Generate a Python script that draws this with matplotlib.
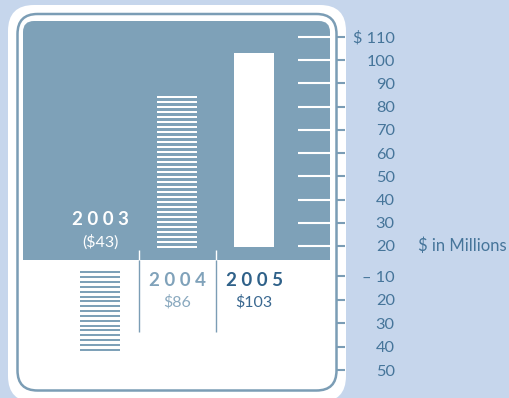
import numpy as np
import matplotlib.pyplot as plt
from matplotlib.patches import FancyBboxPatch, Rectangle
from matplotlib.transforms import Affine2D

# data
years = ["2003", "2004", "2005"]
amounts = ["($43)", "$86", "$103"]
values = [43, 86, 103]
upper_ticks = [20, 30, 40, 50, 60, 70, 80, 90, 100, 110]
upper_labels = ["20", "30", "40", "50", "60", "70", "80", "90", "100", "$ 110"]
lower_ticks = [10, 20, 30, 40, 50]
lower_labels = ["\u2013 10", "20", "30", "40", "50"]
bar_base = 19.4      # upper scale is cut at $20
loss_start = 8       # the 2003 bar hangs down on the lower scale

BG = "#c6d6ec"
DARK = "#7ea1b8"
STEEL = "#7b9db5"
LABEL = "#46759a"

plt.rcParams['font.family'] = ['Lato', 'DejaVu Sans']

W, H = 510, 398
fig = plt.figure(figsize=(W / 100, H / 100), dpi=100, facecolor=BG)
px = Affine2D().scale(1 / W, -1 / H).translate(0, 1) + fig.transFigure


def box(x0, y0, x1, y1, r, z, **kw):
    p = FancyBboxPatch((x0, y0), x1 - x0, y1 - y0,
                       boxstyle=f"round,pad=0,rounding_size={r}",
                       transform=px, zorder=z, **kw)
    fig.add_artist(p)


# frame: white card, thin outline, dark top panel
box(8, 5, 346, 402, 26, -10, facecolor="white", edgecolor="none")
box(17.5, 14, 336.5, 390.5, 20, -9, facecolor="white", edgecolor=STEEL, linewidth=1.8)
box(23, 21, 330, 260, 11, -8, facecolor=DARK, edgecolor="none")
fig.add_artist(Rectangle((23, 235), 307, 25, transform=px, facecolor=DARK,
                         edgecolor="none", zorder=-8))

ax_up = fig.add_axes([23 / W, 1 - 260 / H, 307 / W, 239 / H])
ax_lo = fig.add_axes([23 / W, 1 - 390 / H, 307 / W, 130 / H])

x = np.arange(len(years))
width = 0.52

for ax in (ax_up, ax_lo):
    ax.set_facecolor("none")
    ax.set_xlim(-1.0, 2.987)
    for s in ax.spines.values():
        s.set_visible(False)
    ax.set_xticks([])
    ax.yaxis.tick_right()
    ax.tick_params(axis="y", length=0, pad=46.6, labelcolor=LABEL, labelsize=11.8)

ax_up.set_ylim(13.97, 116.89)
ax_lo.set_ylim(58.51, 3.19)

ax_up.set_yticks(upper_ticks, upper_labels)
ax_lo.set_yticks(lower_ticks, lower_labels)
for ax in (ax_up, ax_lo):
    for t in ax.get_yticklabels():
        t.set_horizontalalignment("right")

# tick marks: white inside the dark panel, steel outside the outline
ytr_up = ax_up.get_yaxis_transform()
ytr_lo = ax_lo.get_yaxis_transform()
for t in upper_ticks:
    ax_up.plot([0.896, 1.0], [t, t], color="white", lw=1.5, transform=ytr_up,
               clip_on=False, solid_capstyle="butt")
    ax_up.plot([1.0195, 1.049], [t, t], color=STEEL, lw=1.5, transform=ytr_up,
               clip_on=False, solid_capstyle="butt")
for t in lower_ticks:
    ax_lo.plot([1.0195, 1.049], [t, t], color=STEEL, lw=1.5, transform=ytr_lo,
               clip_on=False, solid_capstyle="butt")

# 2005: solid white bar
ax_up.bar(x[2], values[2] - bar_base, width, bottom=bar_base, color="white")

# 2004: white stripes on the dark panel
period, thick = 2.153, 1.08
starts = np.arange(bar_base - 0.3, values[1] - 2 * thick, period)
ax_up.bar(np.full(len(starts), x[1]), thick, width, bottom=starts, color="white")

# 2003: steel stripes hanging below the split
period_lo, thick_lo = 2.06, 0.85
starts_lo = np.arange(loss_start, values[0] - thick_lo + 0.01, period_lo)
ax_lo.bar(np.full(len(starts_lo), x[0]), thick_lo, width, bottom=starts_lo, color=DARK)

# separators between the years
ax_up.vlines([0.5, 1.5], 13.97, 18.3, color="white", lw=1.0)
ax_lo.vlines([0.5, 1.5], 3.19, 33.8, color=STEEL, lw=1.0)

# year labels
spaced = [" ".join(y) for y in years]
ax_up.text(x[0], 31.2, spaced[0], ha="center", va="center", color="white",
           fontsize=13.5, fontweight="bold")
ax_up.text(x[0], 21.7, amounts[0], ha="center", va="center", color="white", fontsize=11.5)
ax_lo.text(x[1], 12.1, spaced[1], ha="center", va="center", color="#80a2ba",
           fontsize=13.5, fontweight="bold")
ax_lo.text(x[1], 21.1, amounts[1], ha="center", va="center", color="#8aa9bf", fontsize=11.5)
ax_lo.text(x[2], 12.1, spaced[2], ha="center", va="center", color="#2f6189",
           fontsize=13.5, fontweight="bold")
ax_lo.text(x[2], 21.1, amounts[2], ha="center", va="center", color="#3a6890", fontsize=11.5)

fig.text(418 / W, 1 - 246 / H, "$ in Millions", ha="left", va="center",
         color=LABEL, fontsize=12)

fig.savefig("out.png", dpi=100, facecolor=BG)
